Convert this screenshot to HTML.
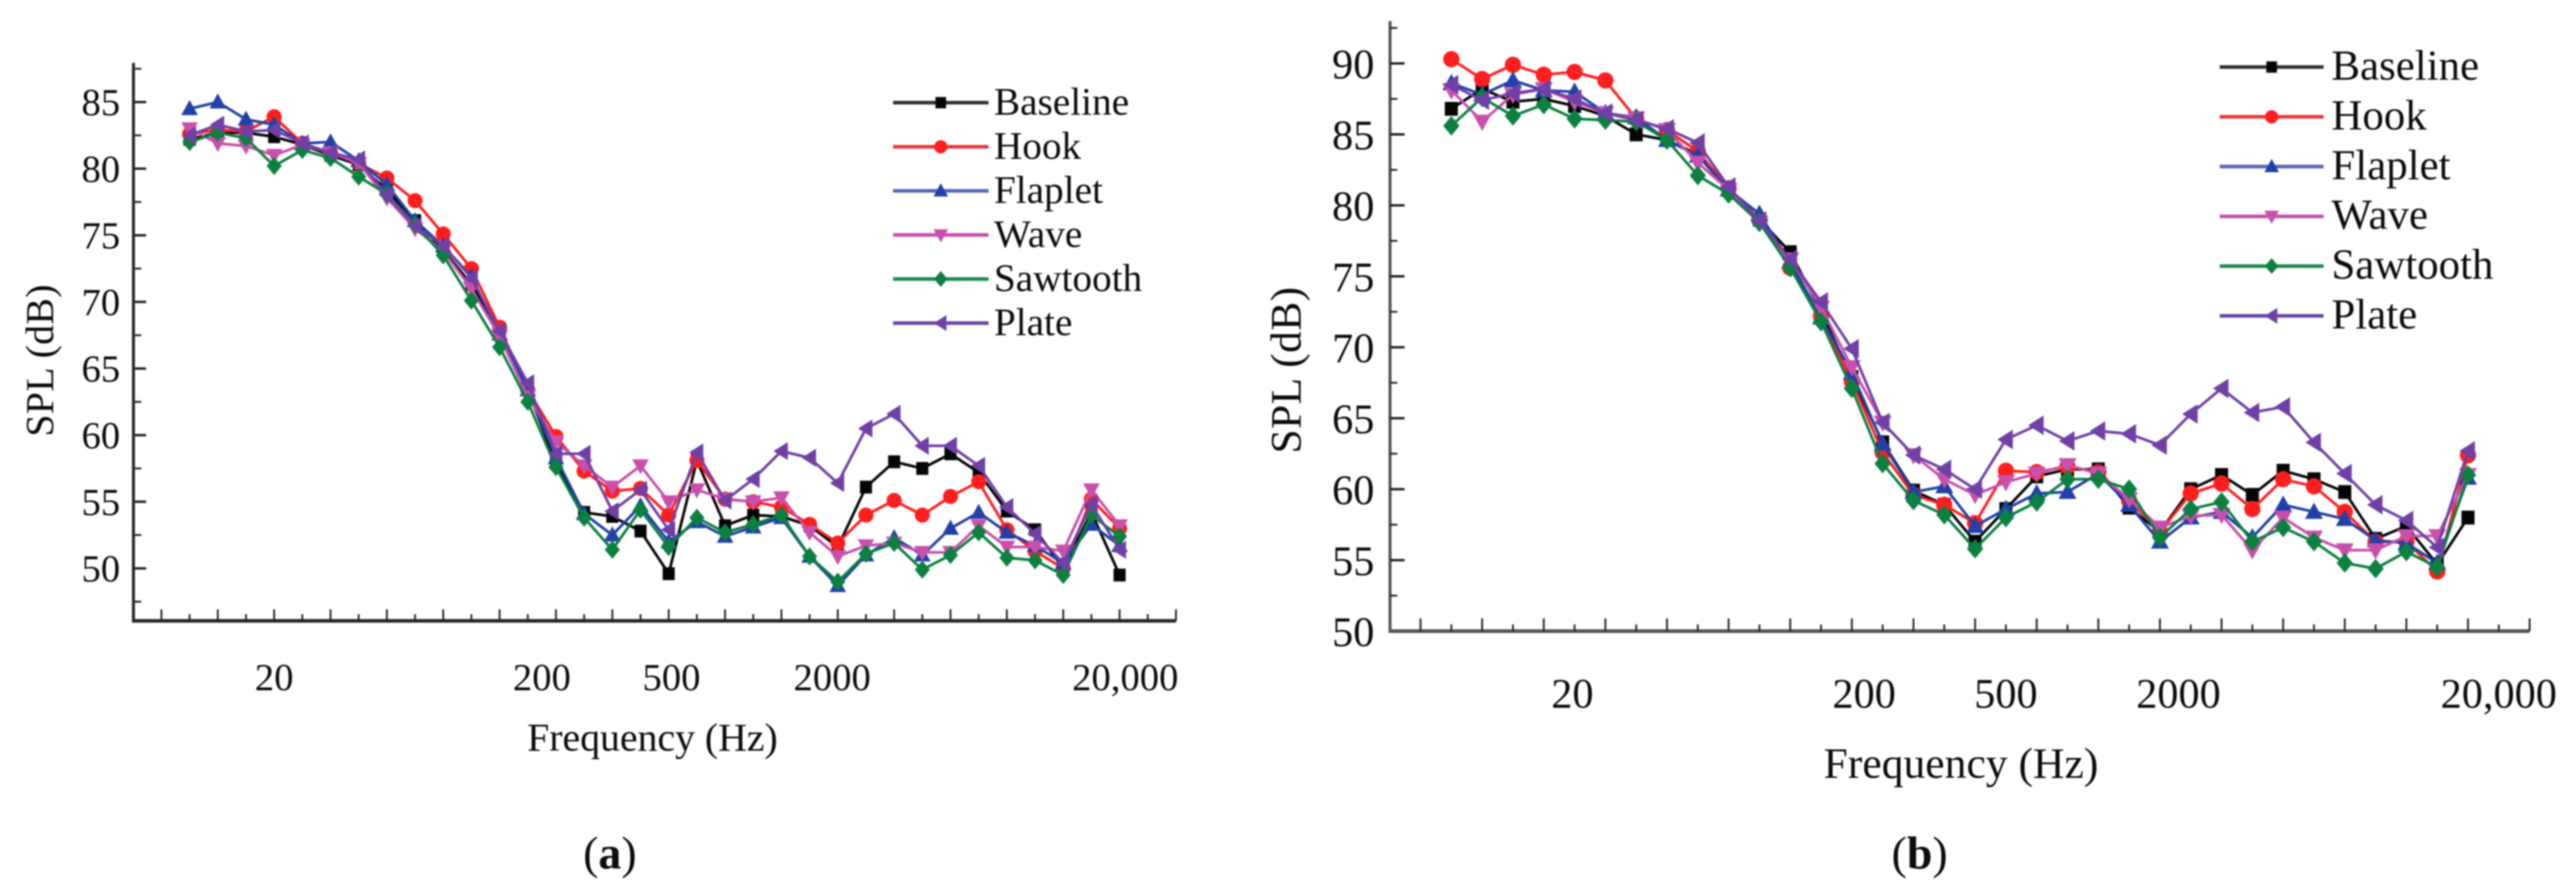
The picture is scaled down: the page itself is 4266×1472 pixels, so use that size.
<!DOCTYPE html>
<html lang="en">
<head>
<meta charset="utf-8">
<title>SPL vs Frequency</title>
<style>
html,body{margin:0;padding:0;background:#fff;width:4266px;height:1472px;overflow:hidden}
svg{display:block;filter:blur(1.2px)}
text{font-family:"Liberation Serif",serif;fill:#0c0c0c}
</style>
</head>
<body>
<svg id="figure" xmlns="http://www.w3.org/2000/svg" width="4266" height="1472" viewBox="0 0 4266 1472"></svg>
<script>
const seriesNames = ['Baseline', 'Hook', 'Flaplet', 'Wave', 'Sawtooth', 'Plate'];
const bandIndex = [0,1,2,3,4,5,6,7,8,9,10,11,12,13,14,15,16,17,18,19,20,21,22,23,24,25,26,27,28,29,30,31,32,33];

const aBaseline = [82.2,82.7,82.7,82.4,81.8,81,80.3,78.4,76.1,73.9,71.3,67.8,63.4,57.9,54.2,53.9,52.8,49.6,58.1,53.2,54,53.9,53.2,51.6,56.1,58,57.5,58.6,57.2,54.3,52.9,50,54.2,49.5];
const aHook = [82.6,82.9,82.8,83.9,81.9,81.2,80.4,79.3,77.6,75.1,72.5,68.1,63.4,59.9,57.3,55.8,56,54,58.1,55.2,55,54.6,53.3,51.9,54,55.1,54,55.4,56.5,52.9,51.3,50,55.2,53];
const aFlaplet = [84.5,85,83.7,83.3,81.9,82,80.6,78.8,76.1,74.2,71.9,67.6,63.4,58.3,54.1,52.5,54.7,52,53.5,52.4,53.1,53.8,50.9,48.7,51,52.3,51,53,54.2,52.7,51.7,50.4,53.3,51.7];
const aWave = [83,81.9,81.7,81,81.8,81.2,80.4,77.8,75.5,73.8,71,67.4,62.9,59.5,57.7,56.1,57.7,55,55.9,55.2,55,55.3,52.7,50.9,51.7,51.9,51.2,51.2,53.2,51.6,51.6,51.3,55.9,53.2];
const aSawtooth = [82,82.7,82.3,80.2,81.4,80.8,79.4,78.1,75.8,73.5,70.1,66.6,62.5,57.6,53.8,51.4,54.4,51.6,53.8,52.7,53.3,54,50.9,49,51.1,51.9,49.9,51,52.7,50.8,50.6,49.5,54,52.4];
const aPlate = [82.5,83.3,82.8,82.9,81.9,81.2,80.7,78,75.7,74.2,71.8,67.8,63.9,58.6,58.6,54.3,55.9,52.9,58.7,55.1,56.7,58.8,58.3,56.4,60.5,61.6,59.2,59.2,57.7,54.6,52.6,50.4,54.8,51.4];

const bBaseline = [86.8,88.2,87.3,87.5,87,86.3,85,84.6,83.6,81.2,79,76.7,72.5,67.9,63.3,59.9,58.9,56.3,58.6,60.9,61.4,61.4,58.7,57,60,61,59.6,61.3,60.7,59.8,56.5,57.4,54.7,58];
const bHook = [90.3,88.9,89.9,89.2,89.4,88.8,86.1,85.3,83.8,81.2,79,75.6,72.2,67.6,62.6,59.6,58.9,57.6,61.3,61.2,61.6,61.2,59.2,57,59.7,60.4,58.6,60.7,60.2,58.4,56.3,56.3,54.2,62.4];
const bFlaplet = [88.6,87.8,88.8,88.1,88,86.5,86.2,84.6,83.5,81.1,79.4,76,72.1,68.2,63.2,59.8,60.2,57.4,58.6,59.7,59.8,61.1,58.9,56.3,58,58.4,56.6,58.9,58.4,57.9,56.4,56.2,54.8,60.8];
const bWave = [88.1,85.9,87.8,88.2,87.3,86.5,86.1,85.3,83,81.1,78.8,76.2,72.8,68.6,64.7,62.4,60.7,59.6,60.5,61.1,61.7,61.1,59.3,57.3,58.1,58.2,55.7,58,56.6,55.7,55.7,56.7,56.7,61];
const bSawtooth = [85.6,87.6,86.3,87.1,86.1,86,85.9,84.6,82.1,80.8,78.8,75.6,71.8,67.1,61.8,59.2,58.2,55.8,58,59.1,60.7,60.7,60,56.6,58.6,59.1,56.3,57.3,56.3,54.8,54.4,55.6,54.5,61];
const bPlate = [88.5,87.4,87.9,88.2,87.5,86.5,86,85.4,84.4,81.3,78.9,76.2,73.2,69.9,64.7,62.4,61.4,60,63.5,64.5,63.4,64.1,63.9,63.1,65.3,67.1,65.4,65.8,63.3,61.1,58.9,57.8,55.9,62.7];

const aYTicks = [50,55,60,65,70,75,80,85];
const bYTicks = [50,55,60,65,70,75,80,85,90];
const xTickLabels = ['20','200','500','2000','20,000'];
const aXLabelBands = [3,12.5,17.1,22.8,33.2];
const bXLabelBands = [3.93,13.4,18,23.6,34];

const colors = ['#050505','#ff1e1e','#2140a8','#c850ac','#0b8040','#7040a6'];
const legendColors = ['#333333','#e8383c','#5a66b8','#c850ac','#1c8a50','#6c48a8'];
const NS = 'http://www.w3.org/2000/svg';
const fig = document.getElementById('figure');

function make(parent, tag, attrs, txt) {
  const node = document.createElementNS(NS, tag);
  for (const k in attrs) node.setAttribute(k, attrs[k]);
  if (txt !== undefined) node.textContent = txt;
  parent.appendChild(node);
  return node;
}

function marker(parent, kind, x, y, s, fill) {
  let el;
  if (kind === 0) el = make(parent, 'rect', {x: x - s * 0.8, y: y - s * 0.85, width: s * 1.6, height: s * 1.7, fill});
  else if (kind === 1) el = make(parent, 'ellipse', {cx: x, cy: y, rx: s, ry: s, fill});
  else if (kind === 2) el = make(parent, 'polygon', {points: `${x},${y - s * 1.15} ${x + s * 1.1},${y + s * 0.85} ${x - s * 1.1},${y + s * 0.85}`, fill});
  else if (kind === 3) el = make(parent, 'polygon', {points: `${x},${y + s * 1.15} ${x + s * 1.1},${y - s * 0.85} ${x - s * 1.1},${y - s * 0.85}`, fill});
  else if (kind === 4) el = make(parent, 'polygon', {points: `${x},${y - s * 1.2} ${x + s},${y} ${x},${y + s * 1.2} ${x - s},${y}`, fill});
  else el = make(parent, 'polygon', {points: `${x - s * 1.05},${y} ${x + s * 0.85},${y - s * 1.2} ${x + s * 0.85},${y + s * 1.2}`, fill});
  return el;
}

function drawPanel(p) {
  const xScale = i => p.x0 + p.dx * i;
  const yScale = v => p.yRef + (p.vRef - v) * p.pxPerDb;

  const group = make(fig, 'g', {});
  
  

  // axes
  const yAxis = make(group, 'line', {x1: p.axisX, x2: p.axisX, y1: p.axisTop, y2: p.axisY + 3, stroke: p.axisColor, 'stroke-width': p.axisW});
  
  
  const xAxis = make(group, 'line', {x1: p.axisX - 2, x2: xScale(35), y1: p.axisY, y2: p.axisY, stroke: p.axisColor, 'stroke-width': p.axisW + 1});
  
  

  // x ticks: major on odd bands, minor on even bands
  for (let k = -1; k <= 35; k++) {
    const major = Math.abs(k) % 2 === 1;
    const len = major ? p.xMajor : p.xMinor;
    const tick = make(group, 'line', {x1: xScale(k), x2: xScale(k), y1: p.axisY, y2: p.axisY - len, stroke: '#222', 'stroke-width': 3});
    
    
  }

  // y ticks
  for (let v = p.vMin; v <= p.vMax; v += 2.5) {
    const major = v % 5 === 0;
    const len = major ? p.yMajor : p.yMinor;
    const tick = make(group, 'line', {x1: p.axisX, x2: p.axisX + len, y1: yScale(v), y2: yScale(v), stroke: '#222', 'stroke-width': major ? 4 : 3});
    
    
  }

  // y tick labels
  p.yTicks.forEach(v => {
    const t = make(group, 'text', {x: p.yLabelX, y: yScale(v) + p.yLabelOff, 'text-anchor': 'end', 'font-size': p.tickFont}, String(v));
    
    
  });

  // x tick labels
  xTickLabels.forEach((lab, j) => {
    const t = make(group, 'text', {x: xScale(p.xLabelBands[j]), y: p.xLabelY, 'text-anchor': 'middle', 'font-size': p.tickFont}, lab);
    
    
  });

  // axis titles
  const xt = make(group, 'text', {x: p.xTitleX, y: p.xTitleY, 'font-size': p.titleFont, textLength: p.xTitleLen, lengthAdjust: 'spacing'}, 'Frequency (Hz)');
  
  
  const yt = make(group, 'text', {transform: `translate(${p.yTitleX},${p.yTitleY}) rotate(-90)`, 'text-anchor': 'middle', 'font-size': p.titleFont, textLength: p.yTitleLen, lengthAdjust: 'spacing'}, 'SPL (dB)');
  
  

  // series
  p.series.forEach((vals, s) => {
    const sg = make(group, 'g', {});
    
    
    const pts = vals.map((v, i) => xScale(bandIndex[i]) + ',' + yScale(v)).join(' ');
    const line = make(sg, 'polyline', {points: pts, fill: 'none', stroke: colors[s], 'stroke-width': p.lineW, 'stroke-linejoin': 'round'});
    
    
    vals.forEach((v, i) => {
      const m = marker(sg, s, xScale(bandIndex[i]), yScale(v), p.markerS, colors[s]);
      
      
    });
  });

  // legend
  const lg = make(group, 'g', {});
  
  
  seriesNames.forEach((n, s) => {
    const y = p.legY + p.legDy * s;
    const entry = make(lg, 'g', {});
    
    
    make(entry, 'line', {x1: p.legX1, x2: p.legX2, y1: y, y2: y, stroke: legendColors[s], 'stroke-width': 6});
    marker(entry, s, (p.legX1 + p.legX2) / 2, y, 11, colors[s]);
    make(entry, 'text', {x: p.legTextX, y: y + p.legOff, 'font-size': p.legFont}, n);
  });

  // caption
  const cap = make(group, 'text', {x: p.capX, y: 1438, 'text-anchor': 'middle', 'font-size': 76});
  
  
  make(cap, 'tspan', {}, '(');
  make(cap, 'tspan', {'font-weight': 'bold'}, p.id);
  make(cap, 'tspan', {}, ')');
}

drawPanel({
  id: 'a', x0: 314, dx: 46.67, yRef: 169, vRef: 85, pxPerDb: 22.06,
  axisX: 221, axisY: 1028, axisTop: 104, axisColor: '#2a2a2a', axisW: 5,
  xMajor: 19, xMinor: 11, yMajor: 21, yMinor: 13, vMin: 47.5, vMax: 87.5,
  yTicks: aYTicks, xLabelBands: aXLabelBands, xLabelY: 1143, yLabelX: 199, yLabelOff: 22,
  tickFont: 64, titleFont: 66, xTitleX: 873, xTitleY: 1243, xTitleLen: 415,
  yTitleX: 88, yTitleY: 597, yTitleLen: 252, lineW: 4.5, markerS: 12.5,
  series: [aBaseline, aHook, aFlaplet, aWave, aSawtooth, aPlate],
  legX1: 1479, legX2: 1637, legY: 170, legDy: 73, legTextX: 1646, legOff: 20, legFont: 65, capX: 1010
});

drawPanel({
  id: 'b', x0: 2403.5, dx: 51.02, yRef: 105, vRef: 90, pxPerDb: 23.5,
  axisX: 2302, axisY: 1045, axisTop: 35, axisColor: '#555555', axisW: 5,
  xMajor: 21, xMinor: 11, yMajor: 24, yMinor: 12, vMin: 52.5, vMax: 92.5,
  yTicks: bYTicks, xLabelBands: bXLabelBands, xLabelY: 1172, yLabelX: 2276, yLabelOff: 25,
  tickFont: 70, titleFont: 72, xTitleX: 3020, xTitleY: 1288, xTitleLen: 455,
  yTitleX: 2154, yTitleY: 613, yTitleLen: 276, lineW: 4.5, markerS: 13.5,
  series: [bBaseline, bHook, bFlaplet, bWave, bSawtooth, bPlate],
  legX1: 3676, legX2: 3848, legY: 111, legDy: 82.4, legTextX: 3861, legOff: 21, legFont: 71, capX: 3179
});
</script>
</body>
</html>
